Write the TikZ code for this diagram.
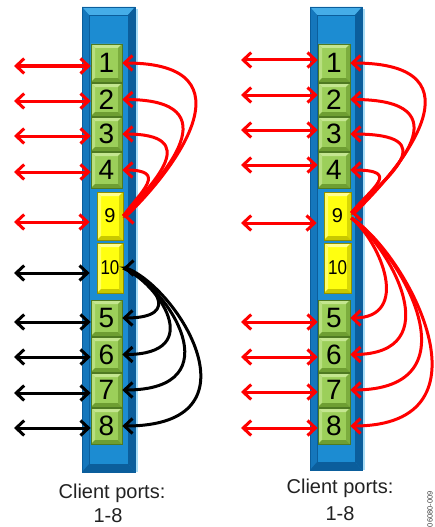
\documentclass[tikz,border=0pt]{standalone}
\usepackage{fontspec}
\setmainfont{Liberation Sans}
\usetikzlibrary{arrows.meta}
\definecolor{barmain}{HTML}{1C8CD2}
\definecolor{barlight}{HTML}{45ADE8}
\definecolor{bardark}{HTML}{0B5E9C}
\definecolor{barmid}{HTML}{1577BC}
\definecolor{barglow}{HTML}{A8DDF7}
\definecolor{gbase}{HTML}{9CCF5A}
\definecolor{glight}{HTML}{C4E690}
\definecolor{gshade}{HTML}{6E9E32}
\definecolor{gedge}{HTML}{4F7A22}
\definecolor{ybase}{HTML}{FFFF10}
\definecolor{ylight}{HTML}{FFFF90}
\definecolor{yshade}{HTML}{C8C800}
\definecolor{yedge}{HTML}{8F8F00}
\definecolor{arrred}{HTML}{FF0000}
\definecolor{captext}{HTML}{222222}
\newcommand\mybar[4]{%
  \fill[barglow] ({#3},{#2+2}) rectangle ({#3+2.5},{#4});
  \fill[barmain] (#1,#2) rectangle (#3,#4);
  \fill[barlight] (#1,#2) -- (#3,#2) -- ({#3-7},{#2+8}) -- ({#1+7},{#2+8}) -- cycle;
  \fill[barmid] (#1,#2) -- ({#1+7},{#2+8}) -- ({#1+7},{#4-8}) -- (#1,#4) -- cycle;
  \fill[bardark] (#3,#2) -- ({#3-7},{#2+8}) -- ({#3-7},{#4-8}) -- (#3,#4) -- cycle;
  \fill[bardark] (#1,#4) -- ({#1+7},{#4-8}) -- ({#3-7},{#4-8}) -- (#3,#4) -- cycle;
  \draw[bardark, line width=0.8pt] ({#1+7},{#2+8}) rectangle ({#3-7},{#4-8});
  \draw[bardark, line width=0.8pt] (#1,#2) rectangle (#3,#4);
}
\tikzset{
  bevel/.style n args={4}{rectangle, inner sep=0pt, fill=#1, draw=#4, line width=0.6pt,
    path picture={
      \coordinate (NW) at (path picture bounding box.north west);
      \coordinate (NE) at (path picture bounding box.north east);
      \coordinate (SW) at (path picture bounding box.south west);
      \coordinate (SE) at (path picture bounding box.south east);
      \fill[#2] (NW) -- (NE) -- ([shift={(-4pt,-4pt)}]NE) -- ([shift={(4pt,-4pt)}]NW) -- cycle;
      \fill[#2!70!#1] (NW) -- ([shift={(4pt,-4pt)}]NW) -- ([shift={(4pt,4pt)}]SW) -- (SW) -- cycle;
      \fill[#3!70!#1] (NE) -- ([shift={(-4pt,-4pt)}]NE) -- ([shift={(-4pt,4pt)}]SE) -- (SE) -- cycle;
      \fill[#3] (SW) -- ([shift={(4pt,4pt)}]SW) -- ([shift={(-4pt,4pt)}]SE) -- (SE) -- cycle;
    }},
  gbox/.style n args={2}{bevel={gbase}{glight}{gshade}{gedge}, minimum width=#1, minimum height=#2,
    font=\fontsize{28}{28}\selectfont},
  ybox/.style n args={2}{bevel={ybase}{ylight}{yshade}{yedge}, minimum width=#1, minimum height=#2,
    font=\fontsize{20}{20}\selectfont},
  tipb/.tip={Straight Barb[length=8pt,width=15pt]},
  redarr/.style={draw=arrred, line width=3pt, tipb-tipb},
  redend/.style={draw=arrred, line width=3pt, -tipb},
  blkarr/.style={draw=black, line width=3pt, tipb-tipb},
  blkend/.style={draw=black, line width=3pt, -tipb},
  captxt/.style={font=\fontsize{20}{20}\selectfont, text=captext, inner sep=0pt}
}
\begin{document}
\begin{tikzpicture}[x=1pt,y=-1pt]
\useasboundingbox (0,0) rectangle (434,527);
\clip (0,0) rectangle (434,527);
\fill[white] (0,0) rectangle (434,527);

% ===== left panel =====
\mybar{82}{7}{135}{472}
\node[gbox={31pt}{38pt}] (L1) at (106.5,63) {1};
\node[gbox={31pt}{33pt}] (L2) at (106.5,99.5) {2};
\node[gbox={31pt}{34pt}] (L3) at (106.5,134) {3};
\node[gbox={31pt}{36pt}] (L4) at (106.5,170) {4};
\node[ybox={26pt}{48pt}] (L9) at (110,216) {9};
\node[ybox={26pt}{50pt}] (L10) at (110,268) {\scalebox{0.85}[1]{10}};
\node[gbox={31pt}{36pt}] (L5) at (106.5,318) {5};
\node[gbox={31pt}{35pt}] (L6) at (106.5,354.5) {6};
\node[gbox={31pt}{34pt}] (L7) at (106.5,390) {7};
\node[gbox={31pt}{36pt}] (L8) at (106.5,426) {8};

\coordinate (La1) at (14,66);
\coordinate (La2) at (14,101);
\coordinate (La3) at (14,136);
\coordinate (La4) at (14,172);
\coordinate (La9) at (14,222);
\coordinate (La10) at (14,273);
\coordinate (La5) at (14,322);
\coordinate (La6) at (14,357);
\coordinate (La7) at (14,393);
\coordinate (La8) at (14,428);
\draw[redarr] (La1) -- (La1 -| L1.west);
\draw[redarr] (La2) -- (La2 -| L2.west);
\draw[redarr] (La3) -- (La3 -| L3.west);
\draw[redarr] (La4) -- (La4 -| L4.west);
\draw[redarr, shorten >=7pt] (La9) -- (La9 -| L9.west);
\draw[blkarr, shorten >=7pt] (La10) -- (La10 -| L10.west);
\draw[blkarr] (La5) -- (La5 -| L5.west);
\draw[blkarr] (La6) -- (La6 -| L6.west);
\draw[blkarr] (La7) -- (La7 -| L7.west);
\draw[blkarr] (La8) -- (La8 -| L8.west);

\draw[redarr] (L9.east) -- ++(3,0) .. controls +(47,-45) and +(134,0) .. (L1.east);
\draw[redend] (L9.east) .. controls +(42,-40) and +(110,0) .. (L2.east);
\draw[redend] (L9.east) .. controls +(32,-35) and +(80,0) .. (L3.east);
\draw[redend] (L9.east) .. controls +(18,-25) and +(46,0) .. (L4.east);

\draw[blkend] (L10.east) .. controls +(28,12) and +(63,0) .. (L5.east);
\draw[blkend] (L10.east) .. controls +(35,15) and +(85,0) .. (L6.east);
\draw[blkend] (L10.east) .. controls +(45,18) and +(112,0) .. (L7.east);
\draw[blkarr] (L10.east) -- ++(3,0) .. controls +(52,20) and +(142,0) .. (L8.east);

\node[captxt] (Lcap) at (112,493) {Client ports:};
\node[captxt] (Lnum) at (108,516) {1-8};

% ===== right panel =====
\mybar{310}{7}{362}{470}
\node[gbox={32pt}{38pt}] (R1) at (334,63) {1};
\node[gbox={32pt}{33pt}] (R2) at (334,99.5) {2};
\node[gbox={32pt}{34pt}] (R3) at (334,134) {3};
\node[gbox={32pt}{36pt}] (R4) at (334,170) {4};
\node[ybox={27pt}{48pt}] (R9) at (337.5,216) {9};
\node[ybox={27pt}{50pt}] (R10) at (337.5,268) {\scalebox{0.85}[1]{10}};
\node[gbox={32pt}{36pt}] (R5) at (334,318) {5};
\node[gbox={32pt}{35pt}] (R6) at (334,354.5) {6};
\node[gbox={32pt}{34pt}] (R7) at (334,390) {7};
\node[gbox={32pt}{36pt}] (R8) at (334,426) {8};

\coordinate (Ra1) at (241,60);
\coordinate (Ra2) at (241,95);
\coordinate (Ra3) at (241,130);
\coordinate (Ra4) at (241,165);
\coordinate (Ra9) at (241,223);
\coordinate (Ra5) at (241,322);
\coordinate (Ra6) at (241,357);
\coordinate (Ra7) at (241,392);
\coordinate (Ra8) at (241,428);
\draw[redarr] (Ra1) -- (Ra1 -| R1.west);
\draw[redarr] (Ra2) -- (Ra2 -| R2.west);
\draw[redarr] (Ra3) -- (Ra3 -| R3.west);
\draw[redarr] (Ra4) -- (Ra4 -| R4.west);
\draw[redarr, shorten >=7pt] (Ra9) -- (Ra9 -| R9.west);
\draw[redarr] (Ra5) -- (Ra5 -| R5.west);
\draw[redarr] (Ra6) -- (Ra6 -| R6.west);
\draw[redarr] (Ra7) -- (Ra7 -| R7.west);
\draw[redarr] (Ra8) -- (Ra8 -| R8.west);

\draw[redarr] ([yshift=3pt]R9.east) -- ++(3,0) .. controls +(47,-45) and +(137,0) .. (R1.east);
\draw[redend] ([yshift=3pt]R9.east) .. controls +(45,-40) and +(115,0) .. (R2.east);
\draw[redend] ([yshift=3pt]R9.east) .. controls +(35,-35) and +(96,0) .. (R3.east);
\draw[redend] ([yshift=3pt]R9.east) .. controls +(20,-25) and +(52,0) .. (R4.east);
\draw[redend] ([yshift=-2pt]R9.east) .. controls +(30,25) and +(61,0) .. (R5.east);
\draw[redend] ([yshift=-2pt]R9.east) .. controls +(40,30) and +(99,0) .. (R6.east);
\draw[redend] ([yshift=-2pt]R9.east) .. controls +(50,35) and +(129,0) .. (R7.east);
\draw[redend] ([yshift=-2pt]R9.east) .. controls +(55,35) and +(150,0) .. (R8.east);

\node[captxt] (Rcap) at (340,488) {Client ports:};
\node[captxt] (Rnum) at (340,514) {1-8};

\node[rotate=90, anchor=east, font=\fontsize{7.5}{7.5}\selectfont, text=black!75, inner sep=0pt] (fig) at (430,491) {06080-009};
\end{tikzpicture}
\end{document}
